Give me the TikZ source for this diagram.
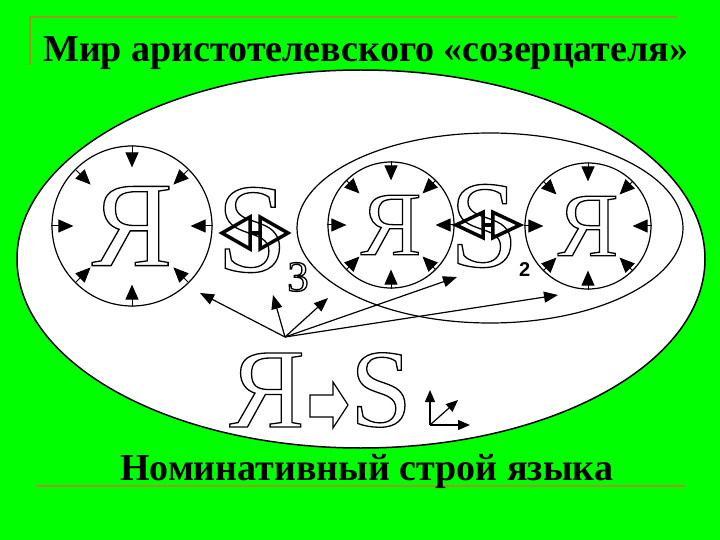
\documentclass[tikz,border=0pt]{standalone}
\usepackage{fontspec}
\setmainfont{Liberation Serif}
\newfontfamily\sansbold{Liberation Sans}
\usetikzlibrary{arrows.meta,calc,positioning}

\definecolor{slidegreen}{RGB}{0,255,0}
\definecolor{rulecolor}{RGB}{160,150,40}

% hollow letters: stroke only
\newcommand{\outl}[1]{\special{pdf:literal direct 1 Tr 1.3 w}#1\special{pdf:literal direct 0 Tr}}

\tikzset{
  ring/.style={circle,draw,line width=1.2pt,fill=white,inner sep=0pt},
  hollow/.style={inner sep=0pt},
  inarrow/.style={line width=1pt,-{Triangle[length=15pt,width=13pt]}},
  pointer/.style={line width=1.2pt,-{Triangle[length=14pt,width=11pt]}},
  heading/.style={font=\fontsize{38}{40}\selectfont\bfseries,anchor=base west,inner sep=0pt},
  exchange/.pic={
    \draw[line width=3.5pt,line join=miter] (-33,0) -- (-5,-16) -- (-5,16) -- cycle;
    \draw[line width=3.5pt,line join=miter] (33,0) -- (5,-16) -- (5,16) -- cycle;
    \draw[line width=3.5pt] (-5,0) -- (5,0);
  }
}

\begin{document}
\begin{tikzpicture}[x=1pt,y=-1pt]
\fill[slidegreen] (0,0) rectangle (720,540);
\useasboundingbox (0,0) rectangle (720,540);
% rules round the title
\draw[rulecolor,line width=2pt] (30,65) -- (30,17) -- (677,17);
\draw[rulecolor,line width=2pt] (35,486) -- (685,486);
\node[heading] (title) at (43,62) {Мир аристотелевского «созерцателя»};
\node[heading] (caption) at (120,480) {Номинативный строй языка};

% the world and the inner group
\draw[line width=1.5pt,fill=white] (361,259) ellipse [x radius=344,y radius=189];
\draw[line width=1.2pt] (490,228) ellipse [x radius=193,y radius=95];

% the three I's
\node[ring,minimum size=160pt,font=\fontsize{121}{121}\selectfont] (ya1) at (132,226) {\outl{Я}};
\node[ring,minimum size=126pt,font=\fontsize{91}{91}\selectfont] (ya2) at (391,225) {\outl{Я}};
\node[ring,minimum size=126pt,font=\fontsize{91}{91}\selectfont] (ya3) at (588,226) {\outl{Я}};
\foreach \c/\d in {ya1/22,ya2/19,ya3/19}
  \foreach \a in {0,45,...,315}
    \draw[inarrow] (\c.\a) -- ($(\c.\a)!\d pt!(\c.center)$);

% the S's
\node[hollow,font=\fontsize{127}{127}\selectfont] (s3) at (252,230) {\outl{S}};
\node[hollow,font=\fontsize{43}{43}\selectfont] (sub3) at (298,277) {\outl{3}};
\node[hollow,font=\fontsize{124}{124}\selectfont] (s2) at (484,226) {\outl{S}};
\node[inner sep=0pt,anchor=west,font=\sansbold\bfseries\fontsize{20}{20}\selectfont] (sub2) at (519,270) {2};
\pic at (255,233) {exchange};
\pic[xscale=0.97,yscale=0.8] at (488,225) {exchange};

% pointers
\coordinate (hub) at (285,337);
\coordinate (t1) at (200,293);
\coordinate (t2) at (273,295);
\coordinate (t3) at (328,298);
\coordinate (t4) at (457,277);
\coordinate (t5) at (558,295);
\foreach \t in {t1,t2,t3,t4,t5}
  \draw[pointer] (hub) -- (\t);

% I -> S
\node[hollow,font=\fontsize{113}{113}\selectfont] (me) at (267,390) {\outl{Я}};
\node[hollow,font=\fontsize{111}{111}\selectfont] (obj) at (381,390) {\outl{S}};
\draw[line width=1.2pt,line join=miter] (310,395) -- (333,395) -- (333,382) -- (348,405)
  -- (333,428) -- (333,417) -- (310,417) -- cycle;
\coordinate (origin) at (430,425);
\coordinate (up) at (430,390);
\coordinate (side) at (470,425);
\coordinate (slant) at (458,400);
\foreach \t in {up,side,slant}
  \draw[line width=1.2pt,-{Triangle[length=12pt,width=10pt]}] (origin) -- (\t);
\end{tikzpicture}
\end{document}
